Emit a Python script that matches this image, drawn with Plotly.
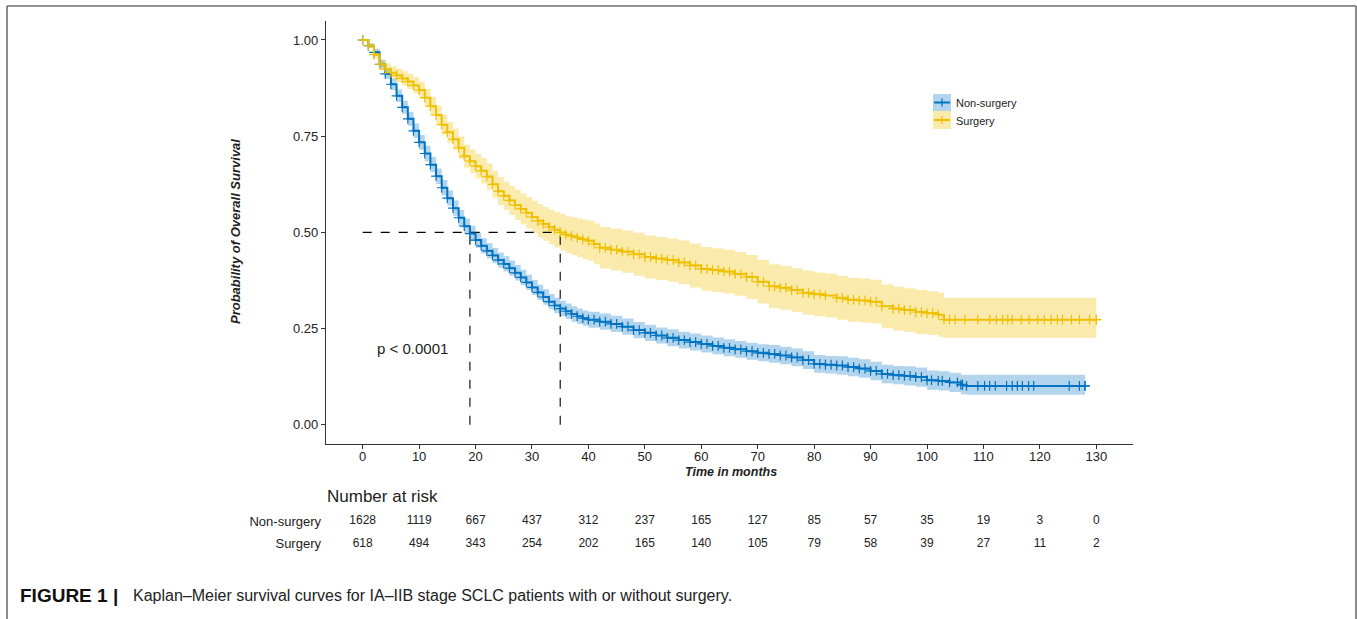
import numpy as np
import plotly.graph_objects as go

# ---------------- data ----------------
# Non-surgery: KM step times (months), survival, 95% CI
t_ns = [0, 1, 2, 3, 4, 5, 6, 7, 8, 9, 10, 11, 12, 13, 14, 15, 16, 17, 18, 19, 20,
        21, 22, 23, 24, 25, 26, 27, 28, 29, 30, 31, 32, 33, 34, 35, 36, 37, 38, 39, 40,
        42, 44, 46, 48, 50, 52, 54, 56, 58, 60, 62, 64, 66, 68, 70, 72, 74, 76, 78, 80,
        82, 84, 86, 88, 90, 92, 94, 96, 98, 100, 102, 104, 106, 107, 128]
s_ns = [1.000, 0.985, 0.968, 0.937, 0.912, 0.885, 0.855, 0.825, 0.795, 0.764, 0.734,
        0.705, 0.676, 0.646, 0.616, 0.589, 0.563, 0.538, 0.516, 0.497, 0.480,
        0.465, 0.452, 0.440, 0.428, 0.418, 0.407, 0.395, 0.383, 0.370, 0.357,
        0.344, 0.332, 0.320, 0.310, 0.302, 0.295, 0.288, 0.282, 0.277, 0.273,
        0.268, 0.262, 0.255, 0.246, 0.239, 0.232, 0.226, 0.220, 0.215, 0.210,
        0.205, 0.200, 0.196, 0.191, 0.187, 0.184, 0.180, 0.175, 0.168, 0.158,
        0.156, 0.154, 0.150, 0.146, 0.140, 0.132, 0.129, 0.127, 0.124, 0.116,
        0.114, 0.110, 0.104, 0.101, 0.101]
lo_ns = [1.000, 0.979, 0.959, 0.926, 0.899, 0.870, 0.839, 0.808, 0.777, 0.745, 0.715,
         0.685, 0.656, 0.626, 0.596, 0.569, 0.543, 0.518, 0.496, 0.477, 0.460,
         0.445, 0.432, 0.420, 0.408, 0.398, 0.387, 0.375, 0.363, 0.350, 0.337,
         0.324, 0.312, 0.300, 0.290, 0.282, 0.275, 0.268, 0.262, 0.257, 0.252,
         0.247, 0.241, 0.234, 0.225, 0.218, 0.211, 0.204, 0.198, 0.193, 0.188,
         0.183, 0.178, 0.174, 0.169, 0.165, 0.161, 0.157, 0.152, 0.145, 0.135,
         0.133, 0.130, 0.126, 0.122, 0.116, 0.108, 0.105, 0.102, 0.099, 0.091,
         0.089, 0.085, 0.079, 0.078, 0.078]
hi_ns = [1.000, 0.991, 0.977, 0.948, 0.925, 0.900, 0.871, 0.842, 0.813, 0.783, 0.753,
         0.725, 0.696, 0.666, 0.636, 0.609, 0.583, 0.558, 0.536, 0.517, 0.500,
         0.485, 0.472, 0.460, 0.448, 0.438, 0.427, 0.415, 0.403, 0.390, 0.377,
         0.364, 0.352, 0.340, 0.330, 0.322, 0.315, 0.308, 0.302, 0.297, 0.294,
         0.289, 0.283, 0.276, 0.267, 0.260, 0.253, 0.248, 0.242, 0.237, 0.232,
         0.227, 0.222, 0.218, 0.213, 0.209, 0.207, 0.203, 0.198, 0.191, 0.181,
         0.179, 0.178, 0.174, 0.170, 0.164, 0.156, 0.153, 0.152, 0.149, 0.141,
         0.139, 0.135, 0.130, 0.130, 0.130]
cens_ns = [41, 43, 45, 47, 49, 51, 53, 55, 57, 59, 61, 63, 65, 67, 69, 71, 73, 75,
           77, 79, 81, 83, 85, 87, 89, 91, 93, 95, 97, 99, 100.8, 102.7, 105.4, 106.3,
           109, 110.2, 111.1, 112.1, 114.1, 115.1, 116, 116.9, 118, 118.9,
           125.2, 127, 128]

# Surgery
t_s = [0, 1, 2, 3, 4, 5, 6, 7, 8, 9, 10, 11, 12, 13, 14, 15, 16, 17, 18, 19, 20,
       21, 22, 23, 24, 25, 26, 27, 28, 29, 30, 31, 32, 33, 34, 35, 36, 37, 38, 39, 40,
       41, 42, 44, 46, 48, 50, 52, 54, 56, 58, 60, 62, 64, 66, 68, 70, 72, 74, 76, 78,
       80, 82, 84, 86, 88, 90, 92, 94, 96, 98, 100, 102, 103, 130]
s_s = [1.000, 0.985, 0.962, 0.937, 0.924, 0.915, 0.908, 0.900, 0.892, 0.882,
       0.870, 0.850, 0.828, 0.805, 0.780, 0.760, 0.742, 0.720, 0.698, 0.685,
       0.672, 0.660, 0.645, 0.625, 0.607, 0.595, 0.583, 0.571, 0.561, 0.551,
       0.540, 0.530, 0.522, 0.514, 0.507, 0.500, 0.494, 0.490, 0.486, 0.482,
       0.478, 0.470, 0.460,
       0.455, 0.450, 0.443, 0.436, 0.432, 0.428, 0.422, 0.414, 0.405, 0.402,
       0.398, 0.392, 0.384, 0.372, 0.360, 0.356, 0.350, 0.343, 0.339, 0.336,
       0.330, 0.325, 0.323, 0.320, 0.308, 0.302, 0.298, 0.293, 0.290, 0.286,
       0.273, 0.273]
lo_s = [1.000, 0.979, 0.952, 0.924, 0.909, 0.898, 0.890, 0.881, 0.872, 0.861,
        0.848, 0.827, 0.804, 0.780, 0.754, 0.733, 0.714, 0.691, 0.668, 0.654,
        0.640, 0.627, 0.611, 0.590, 0.571, 0.558, 0.545, 0.532, 0.521, 0.510,
        0.498, 0.487, 0.478, 0.469, 0.461, 0.453, 0.446, 0.441, 0.436, 0.431,
        0.426, 0.417, 0.406,
        0.400, 0.395, 0.387, 0.380, 0.376, 0.372, 0.365, 0.357, 0.348, 0.345,
        0.341, 0.335, 0.327, 0.315, 0.303, 0.299, 0.293, 0.286, 0.282, 0.279,
        0.273, 0.268, 0.266, 0.263, 0.251, 0.245, 0.241, 0.236, 0.233, 0.229,
        0.226, 0.226]
hi_s = [1.000, 0.991, 0.972, 0.950, 0.939, 0.932, 0.926, 0.919, 0.912, 0.903,
        0.892, 0.873, 0.852, 0.830, 0.806, 0.787, 0.770, 0.749, 0.728, 0.716,
        0.704, 0.693, 0.679, 0.660, 0.643, 0.632, 0.621, 0.610, 0.601, 0.592,
        0.582, 0.573, 0.566, 0.559, 0.553, 0.547, 0.542, 0.539, 0.536, 0.533,
        0.530, 0.523, 0.514,
        0.510, 0.505, 0.499, 0.492, 0.488, 0.484, 0.479, 0.471, 0.462, 0.459,
        0.455, 0.449, 0.441, 0.429, 0.417, 0.413, 0.407, 0.400, 0.396, 0.393,
        0.387, 0.382, 0.380, 0.377, 0.365, 0.359, 0.355, 0.350, 0.347, 0.343,
        0.330, 0.330]
cens_s = [43, 45, 47, 49, 51, 53, 55, 57, 59, 61, 63, 65, 67, 69, 71, 73, 75, 77,
          79, 81, 85, 87, 89, 91, 95, 97, 99, 101, 104, 105, 106.7, 109, 111.1,
          112.3, 113.4, 114.3, 115.1, 116.7, 118.1, 119.6, 120.8, 122, 123.1, 124,
          125.6, 127, 128.8, 130]

medians = [19, 35]
median_level = 0.5

risk_times = [0, 10, 20, 30, 40, 50, 60, 70, 80, 90, 100, 110, 120, 130]
risk_ns = [1628, 1119, 667, 437, 312, 237, 165, 127, 85, 57, 35, 19, 3, 0]
risk_s = [618, 494, 343, 254, 202, 165, 140, 105, 79, 58, 39, 27, 11, 2]
groups = ["Non-surgery", "Surgery"]

x_ticks = [0, 10, 20, 30, 40, 50, 60, 70, 80, 90, 100, 110, 120, 130]
y_ticks = [0.0, 0.25, 0.5, 0.75, 1.0]
y_ticklabels = ["0.00", "0.25", "0.50", "0.75", "1.00"]

# ---------------- style ----------------
W, H = 1357, 619
BLUE = "#0073C2"
YELLOW = "#EFC000"
BLUE_F = "rgba(0,115,194,0.30)"
YEL_F = "rgba(239,192,0,0.32)"
FONT = "Liberation Sans, Arial, Helvetica, sans-serif"
TXT = "#222222"


def PX(x):
    return x / W


def PY(y):
    return 1 - y / H


def step_lookup(times, surv, tc):
    idx = np.searchsorted(np.asarray(times, float), np.asarray(tc, float), side="right") - 1
    return list(np.asarray(surv)[idx])


fig = go.Figure()

# CI ribbons
for t, lo, hi, fc in [(t_ns, lo_ns, hi_ns, BLUE_F), (t_s, lo_s, hi_s, YEL_F)]:
    fig.add_trace(go.Scatter(x=t, y=lo, mode="lines", line=dict(width=0, shape="hv"),
                             showlegend=False, hoverinfo="skip"))
    fig.add_trace(go.Scatter(x=t, y=hi, mode="lines", line=dict(width=0, shape="hv"),
                             fill="tonexty", fillcolor=fc, showlegend=False,
                             hoverinfo="skip"))

# median reference lines
fig.add_trace(go.Scatter(x=[0, max(medians)], y=[median_level, median_level], mode="lines",
                         line=dict(color="black", width=1.1, dash="dash"),
                         showlegend=False, hoverinfo="skip"))
for m in medians:
    fig.add_trace(go.Scatter(x=[m, m], y=[0, median_level], mode="lines",
                             line=dict(color="black", width=1.1, dash="dash"),
                             showlegend=False, hoverinfo="skip"))

# KM curves and censor marks
MS = 7
for t, s, c, col, name in [(t_ns, s_ns, cens_ns, BLUE, groups[0]),
                           (t_s, s_s, cens_s, YELLOW, groups[1])]:
    fig.add_trace(go.Scatter(x=t, y=s, mode="lines+markers", name=name,
                             line=dict(color=col, width=2, shape="hv"),
                             marker=dict(symbol="cross-thin", size=MS,
                                         line=dict(color=col, width=1.2)),
                             showlegend=False))
    fig.add_trace(go.Scatter(x=c, y=step_lookup(t, s, c), mode="markers",
                             marker=dict(symbol="cross-thin", size=MS,
                                         line=dict(color=col, width=1.2)),
                             showlegend=False, hoverinfo="skip"))

# risk table
fig.add_trace(go.Scatter(x=risk_times, y=[groups[0]] * len(risk_times), mode="text",
                         text=[str(v) for v in risk_ns], xaxis="x2", yaxis="y2",
                         textfont=dict(family=FONT, size=12, color=TXT),
                         showlegend=False, hoverinfo="skip"))
fig.add_trace(go.Scatter(x=risk_times, y=[groups[1]] * len(risk_times), mode="text",
                         text=[str(v) for v in risk_s], xaxis="x2", yaxis="y2",
                         textfont=dict(family=FONT, size=12, color=TXT),
                         showlegend=False, hoverinfo="skip"))

xr = [-6.5, 136.5]
fig.update_layout(
    width=W, height=H, autosize=False,
    margin=dict(l=0, r=0, t=0, b=0),
    paper_bgcolor="white", plot_bgcolor="white",
    font=dict(family=FONT, color=TXT),
    xaxis=dict(domain=[PX(326), PX(1133)], range=xr, tickvals=x_ticks,
               showline=True, linecolor="#333333", linewidth=1.2,
               ticks="outside", ticklen=4, tickcolor="#333333", tickwidth=1,
               ticklabelstandoff=-4,
               showgrid=False, zeroline=False,
               tickfont=dict(family=FONT, size=13, color=TXT)),
    yaxis=dict(domain=[PY(444), PY(20.75)], range=[-0.05, 1.05], tickvals=y_ticks,
               ticktext=y_ticklabels, showline=True, linecolor="#333333",
               linewidth=1.2, ticks="outside", ticklen=4, tickcolor="#333333",
               tickwidth=1, showgrid=False, zeroline=False,
               tickfont=dict(family=FONT, size=13, color=TXT)),
    xaxis2=dict(domain=[PX(326), PX(1133)], range=xr, anchor="y2",
                showline=False, showticklabels=False, ticks="", showgrid=False,
                zeroline=False),
    yaxis2=dict(domain=[PY(555), PY(510)], anchor="x2", type="category",
                categoryorder="array", categoryarray=[groups[1], groups[0]],
                range=[-0.5, 1.5], showline=False, ticks="", showgrid=False,
                ticklabelstandoff=4,
                zeroline=False, tickfont=dict(family=FONT, size=13, color=TXT)),
)


def A(text, x, y, size, xanchor="center", ref="paper", **kw):
    d = dict(text=text, x=x, y=y, xref=ref, yref=ref, xanchor=xanchor,
             yanchor="middle", showarrow=False,
             font=dict(family=FONT, size=size, color=kw.pop("color", TXT)))
    d.update(kw)
    return d


ann = [
    A("<b><i>Probability of Overall Survival</i></b>", PX(236), PY(232), 13, textangle=-90),
    A("<b><i>Time in months</i></b>", PX(730.5), PY(471.5), 12.5),
    A("p < 0.0001", 8.85, 0.197, 15, ref="x"),
    A("Number at risk", PX(325), PY(496), 17, xanchor="left"),
    A("Non-surgery", PX(954), PY(102.5), 11, xanchor="left"),
    A("Surgery", PX(954), PY(120.5), 11, xanchor="left"),
    A("<b>FIGURE 1 |</b>", PX(18), PY(595), 19, xanchor="left", color="#111111"),
    A("Kaplan–Meier survival curves for IA–IIB stage SCLC patients with or without surgery.",
      PX(131), PY(595), 16, xanchor="left"),
]
ann[2]["yref"] = "y"
fig.update_layout(annotations=ann)

shapes = []
# page frame
for (x0, y0, x1, y1) in [(7, 6, 1356, 6), (7, 6, 7, 640), (1356, 6, 1356, 640)]:
    shapes.append(dict(type="line", xref="paper", yref="paper", x0=PX(x0), y0=PY(y0),
                       x1=PX(x1), y1=PY(y1), line=dict(color="#6e6e6e", width=1.6)))
# legend keys
for (ytop, ybot, fc, col) in [(94, 111, BLUE_F, BLUE), (111, 129, YEL_F, YELLOW)]:
    yc = (ytop + ybot) / 2
    shapes.append(dict(type="rect", xref="paper", yref="paper", x0=PX(933), x1=PX(951),
                       y0=PY(ybot), y1=PY(ytop), fillcolor=fc, line=dict(width=0)))
    shapes.append(dict(type="line", xref="paper", yref="paper", x0=PX(934), x1=PX(950),
                       y0=PY(yc), y1=PY(yc), line=dict(color=col, width=2)))
    shapes.append(dict(type="line", xref="paper", yref="paper", x0=PX(942), x1=PX(942),
                       y0=PY(yc - 4), y1=PY(yc + 4), line=dict(color=col, width=1.3)))
fig.update_layout(shapes=shapes)

fig.write_html("out.html")
